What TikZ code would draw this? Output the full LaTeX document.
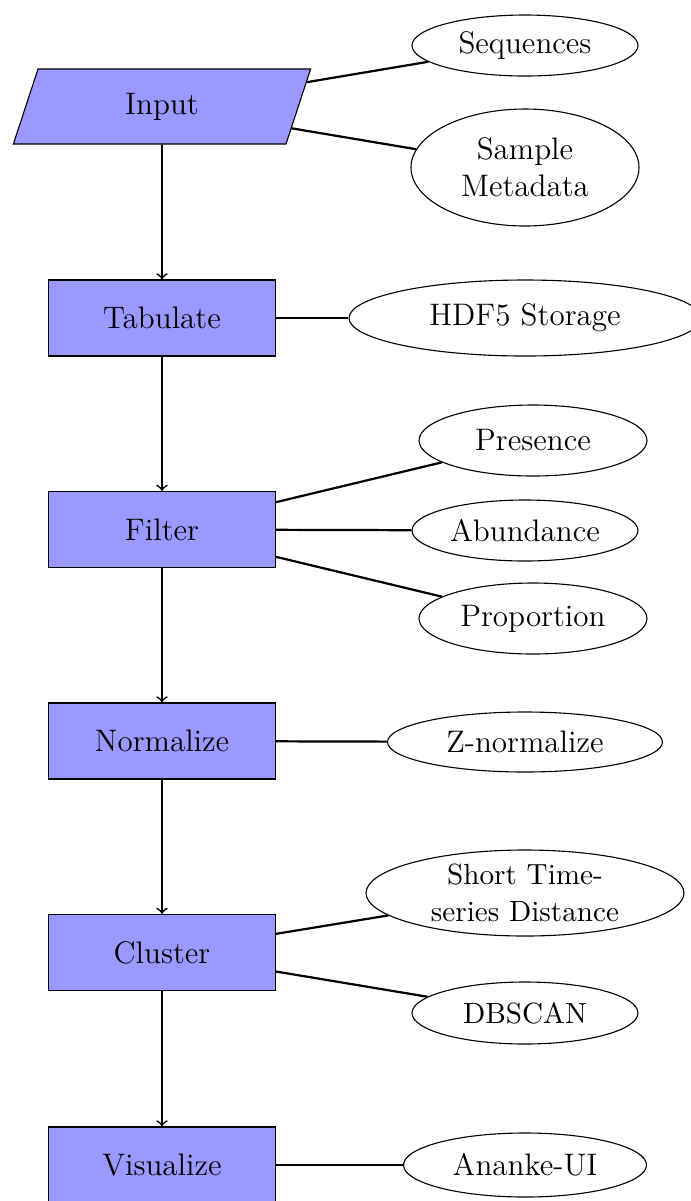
\documentclass[tikz,border=0pt]{standalone}
\usetikzlibrary{shapes.geometric}
\begin{document}
\begin{tikzpicture}[x=0.36pt,y=-0.36pt,
  font=\fontsize{11.2}{13.3}\selectfont,
  sz/.style 2 args={minimum width=#1*0.36pt, minimum height=#2*0.36pt},
  proc/.style={rectangle, draw, fill=blue!40, inner sep=0pt, sz={227}{76}},
  io/.style={trapezium, trapezium left angle=75, trapezium right angle=105,
    trapezium stretches=true, draw, fill=blue!40, inner sep=0pt, sz={298}{75}},
  res/.style={ellipse, draw, fill=white, inner sep=0pt, align=center},
  smalltext/.style={font=\fontsize{10.5}{13.3}\selectfont},
  link/.style={thick},
  flow/.style={semithick,->}]
\useasboundingbox (0,0) rectangle (691,1201);

\node[io] (in) at (162,106.5) {Input};
\node[proc] (tab) at (162,318) {Tabulate};
\node[proc] (fil) at (162,529.5) {Filter};
\node[proc] (nor) at (162,741) {Normalize};
\node[proc] (clu) at (162,952.5) {Cluster};
\node[proc] (vis) at (162,1165) {Visualize};

\node[res, sz={226}{61}] (seq) at (525,45.5) {Sequences};
\node[res, sz={228}{117}] (meta) at (525,167.5) {Sample\\Metadata};
\node[res, sz={352}{76}] (hdf) at (525,318) {HDF5 Storage};
\node[res, sz={228}{71}] (pres) at (533,440.5) {Presence};
\node[res, sz={226}{61}] (abun) at (525,530.5) {Abundance};
\node[res, sz={228}{71}] (prop) at (533,618.5) {Proportion};
\node[res, sz={275}{60}] (zn) at (525,742) {Z-normalize};
\node[res, smalltext, sz={318}{86}] (sts) at (525,893) {Short Time-\\series Distance};
\node[res, smalltext, sz={226}{62}] (db) at (525,1013) {DBSCAN};
\node[res, sz={243}{64}] (ui) at (525,1165) {Ananke-UI};

\draw[flow] (in) -- (tab);
\draw[flow] (tab) -- (fil);
\draw[flow] (fil) -- (nor);
\draw[flow] (nor) -- (clu);
\draw[flow] (clu) -- (vis);

\draw[link] (in) -- (seq);
\draw[link] (in) -- (meta);
\draw[link] (tab) -- (hdf);
\draw[link] (fil) -- (pres);
\draw[link] (fil) -- (abun);
\draw[link] (fil) -- (prop);
\draw[link] (nor) -- (zn);
\draw[link] (clu) -- (sts);
\draw[link] (clu) -- (db);
\draw[link] (vis) -- (ui);
\end{tikzpicture}
\end{document}
